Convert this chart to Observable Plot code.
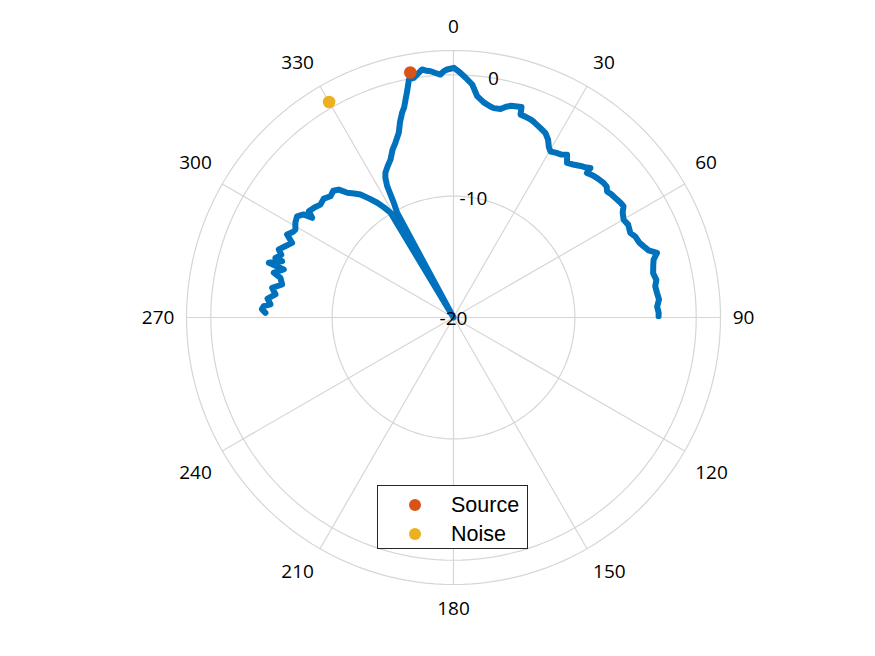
<!DOCTYPE html>
<html>
<head>
<meta charset="utf-8">
<script src="https://cdn.jsdelivr.net/npm/d3@7"></script>
<script src="https://cdn.jsdelivr.net/npm/@observablehq/plot@0.6"></script>
<style>
  html, body { margin: 0; padding: 0; background: #fff; }
  #wrap { position: relative; width: 875px; height: 656px; }
  #legend {
    position: absolute; left: 377px; top: 485px; width: 151px; height: 64px;
    border: 1.6px solid #262626; background: #fff; box-sizing: border-box;
    font-family: "Liberation Sans", Arial, sans-serif; font-size: 21.5px; color: #000;
  }
  .item { position: absolute; left: 0; height: 28px; line-height: 28px; }
  .dot { position: absolute; left: 31px; top: 8px; width: 12px; height: 12px; border-radius: 50%; }
  .lab { position: absolute; left: 73px; top: 0; white-space: nowrap; }
</style>
</head>
<body>
<div id="wrap"></div>
<script>
// ---- data (angles in degrees, clockwise from north; response in dB) ----
const thetaDeg = [
  -88.6, -87.5, -86.6, -85.9, -84.2, -82.6, -80.7, -79.1, -77.1, -76.0,
  -74.2, -73.5, -72.5, -71.8, -71.5, -70.0, -68.7, -66.8, -65.2, -63.5,
  -62.0, -60.9, -59.0, -57.1, -55.5, -54.8, -53.7, -51.5, -49.7, -47.5,
  -45.4, -43.5, -41.9, -40.4, -38.7, -37.1, -35.3, -33.6, -32.2, -31.0,
  -30.0, -29.0, -28.3, -27.5, -26.8, -26.0, -25.2, -23.5, -21.7, -20.0,
  -18.4, -16.5, -15.3, -14.1, -13.2, -12.4, -11.5, -10.6, -9.4, -8.3,
  -7.2, -6.2, -5.3, -4.2, -3.1, -2.3, -1.5, -0.7, 0.1, 1.5,
  2.9, 4.6, 6.1, 8.0, 9.9, 10.9, 12.7, 14.0, 15.2, 16.8,
  17.9, 18.3, 19.5, 21.5, 22.5, 24.0, 24.6, 26.5, 28.0, 29.2,
  30.3, 32.0, 33.5, 34.9, 36.3, 38.0, 40.0, 41.5, 42.5, 42.7,
  44.5, 46.0, 48.1, 49.5, 50.6, 52.0, 54.0, 55.5, 56.8, 58.2,
  60.1, 62.0, 64.4, 66.0, 68.0, 69.5, 71.0, 72.4, 73.9, 75.5,
  77.5, 79.5, 81.2, 83.1, 85.0, 87.0, 88.7, 89.6
];
const responseDb = [
  -4.50, -4.20, -4.34, -4.88, -4.60, -5.21, -4.86, -5.62, -5.37, -4.74,
  -5.47, -4.13, -4.70, -5.14, -4.53, -4.90, -4.55, -5.00, -5.35, -4.68,
  -5.00, -5.09, -4.80, -4.65, -5.00, -5.75, -5.21, -5.40, -5.62, -5.50,
  -5.77, -5.60, -5.84, -6.50, -6.90, -7.29, -8.00, -8.65, -9.30, -9.93,
  -20.0, -20.0, -10.2, -9.35, -7.88, -7.20, -6.82, -6.40, -5.98, -5.30,
  -4.83, -4.13, -3.30, -2.61, -2.20, -1.61, -0.90, -0.04, 0.02, 0.30,
  0.60, 0.45, 0.38, 0.20, 0.05, 0.30, 0.44, 0.50, 0.57, 0.20,
  -0.22, -0.74, -1.66, -2.10, -2.35, -2.43, -2.39, -2.10, -1.92, -1.84,
  -1.78, -2.40, -2.42, -2.50, -2.60, -2.76, -2.82, -3.02, -3.40, -3.90,
  -4.16, -4.00, -3.90, -3.64, -4.20, -4.00, -3.70, -3.50, -3.30, -3.79,
  -3.60, -3.50, -3.39, -3.40, -3.63, -3.50, -3.40, -3.30, -3.26, -3.60,
  -3.83, -3.70, -3.85, -3.60, -3.50, -3.27, -3.00, -2.41, -2.84, -3.00,
  -3.15, -3.00, -3.18, -3.11, -3.00, -3.20, -3.09, -3.10
];
const markerNames = ["Source", "Noise"];
const markerTheta = [-10, -30];
const markerDb = [0.5, 0.5];
const markerColors = ["#D95319", "#EDB120"];

const thetaTicks = [0, 30, 60, 90, 120, 150, 180, 210, 240, 270, 300, 330];
const rTicks = [-20, -10, 0];
const rMin = -20, rMax = 2;

// ---- polar helpers ----
const rad = d => d * Math.PI / 180;
const rho = r => Math.max(r, rMin) - rMin;
const R = rMax - rMin;
const px = (t, r) => rho(r) * Math.sin(rad(t));
const py = (t, r) => rho(r) * Math.cos(rad(t));
const sgn = v => Math.abs(v) < 1e-9 ? 0 : Math.sign(v);

// theta-label placement (in r units): anchored just outside the edge circle
const labX = t => (R + 1.0) * Math.sin(rad(t));
const labY = t => (R + 0.41) * Math.cos(rad(t)) + 1.57 * sgn(Math.cos(rad(t)));
const ticksRight = thetaTicks.filter(t => sgn(Math.sin(rad(t))) > 0);
const ticksLeft = thetaTicks.filter(t => sgn(Math.sin(rad(t))) < 0);
const ticksMid = thetaTicks.filter(t => sgn(Math.sin(rad(t))) === 0);

const curve = thetaDeg.map((t, i) => ({t, r: responseDb[i]}));
const markers = markerNames.map((n, i) => ({name: n, t: markerTheta[i], r: markerDb[i], c: markerColors[i]}));

// grid rings (-10, 0 and outer edge)
const ringLevels = [-10, 0, rMax];
const ringPts = ringLevels.flatMap(lv => d3.range(0, 361, 2).map(a => ({lv, a})));

const gridColor = "#d6d6d6";
const font = "'Open Sans', 'DejaVu Sans', sans-serif";
const txt = {fontSize: 19, fontFamily: font, fill: "#000", text: t => String(t), x: labX, y: labY};

const chart = Plot.plot({
  width: 875,
  height: 656,
  marginLeft: 186,
  marginRight: 155,
  marginTop: 50,
  marginBottom: 72,
  x: {domain: [-R, R], axis: null},
  y: {domain: [-R, R], axis: null},
  marks: [
    Plot.line(ringPts, {x: d => px(d.a, d.lv), y: d => py(d.a, d.lv), z: "lv", stroke: gridColor, strokeWidth: 1.2}),
    Plot.link(thetaTicks, {x1: () => 0, y1: () => 0, x2: t => R * Math.sin(rad(t)), y2: t => R * Math.cos(rad(t)), stroke: gridColor, strokeWidth: 1.2}),
    Plot.line(curve, {x: d => px(d.t, d.r), y: d => py(d.t, d.r), stroke: "#0072BD", strokeWidth: 6, strokeLinejoin: "round", strokeLinecap: "round"}),
    Plot.dot(markers, {x: d => px(d.t, d.r), y: d => py(d.t, d.r), fill: d => d.c, r: 6.3, stroke: "none"}),
    Plot.text(ticksRight, {...txt, textAnchor: "start"}),
    Plot.text(ticksLeft, {...txt, textAnchor: "end"}),
    Plot.text(ticksMid, {...txt, textAnchor: "middle"}),
    Plot.text(rTicks, {x: r => rho(r) * Math.sin(rad(9.5)), y: r => rho(r) * Math.cos(rad(9.5)), text: r => String(r), fontSize: 19, fontFamily: font, fill: "#000", dy: 1})
  ]
});

const wrap = document.getElementById("wrap");
wrap.appendChild(chart);

const legend = document.createElement("div");
legend.id = "legend";
markers.forEach((m, i) => {
  const it = document.createElement("div");
  it.className = "item";
  it.style.top = (5 + i * 29) + "px";
  const dot = document.createElement("span");
  dot.className = "dot";
  dot.style.background = m.c;
  const lab = document.createElement("span");
  lab.className = "lab";
  lab.textContent = m.name;
  it.appendChild(dot);
  it.appendChild(lab);
  legend.appendChild(it);
});
wrap.appendChild(legend);
</script>
</body>
</html>
